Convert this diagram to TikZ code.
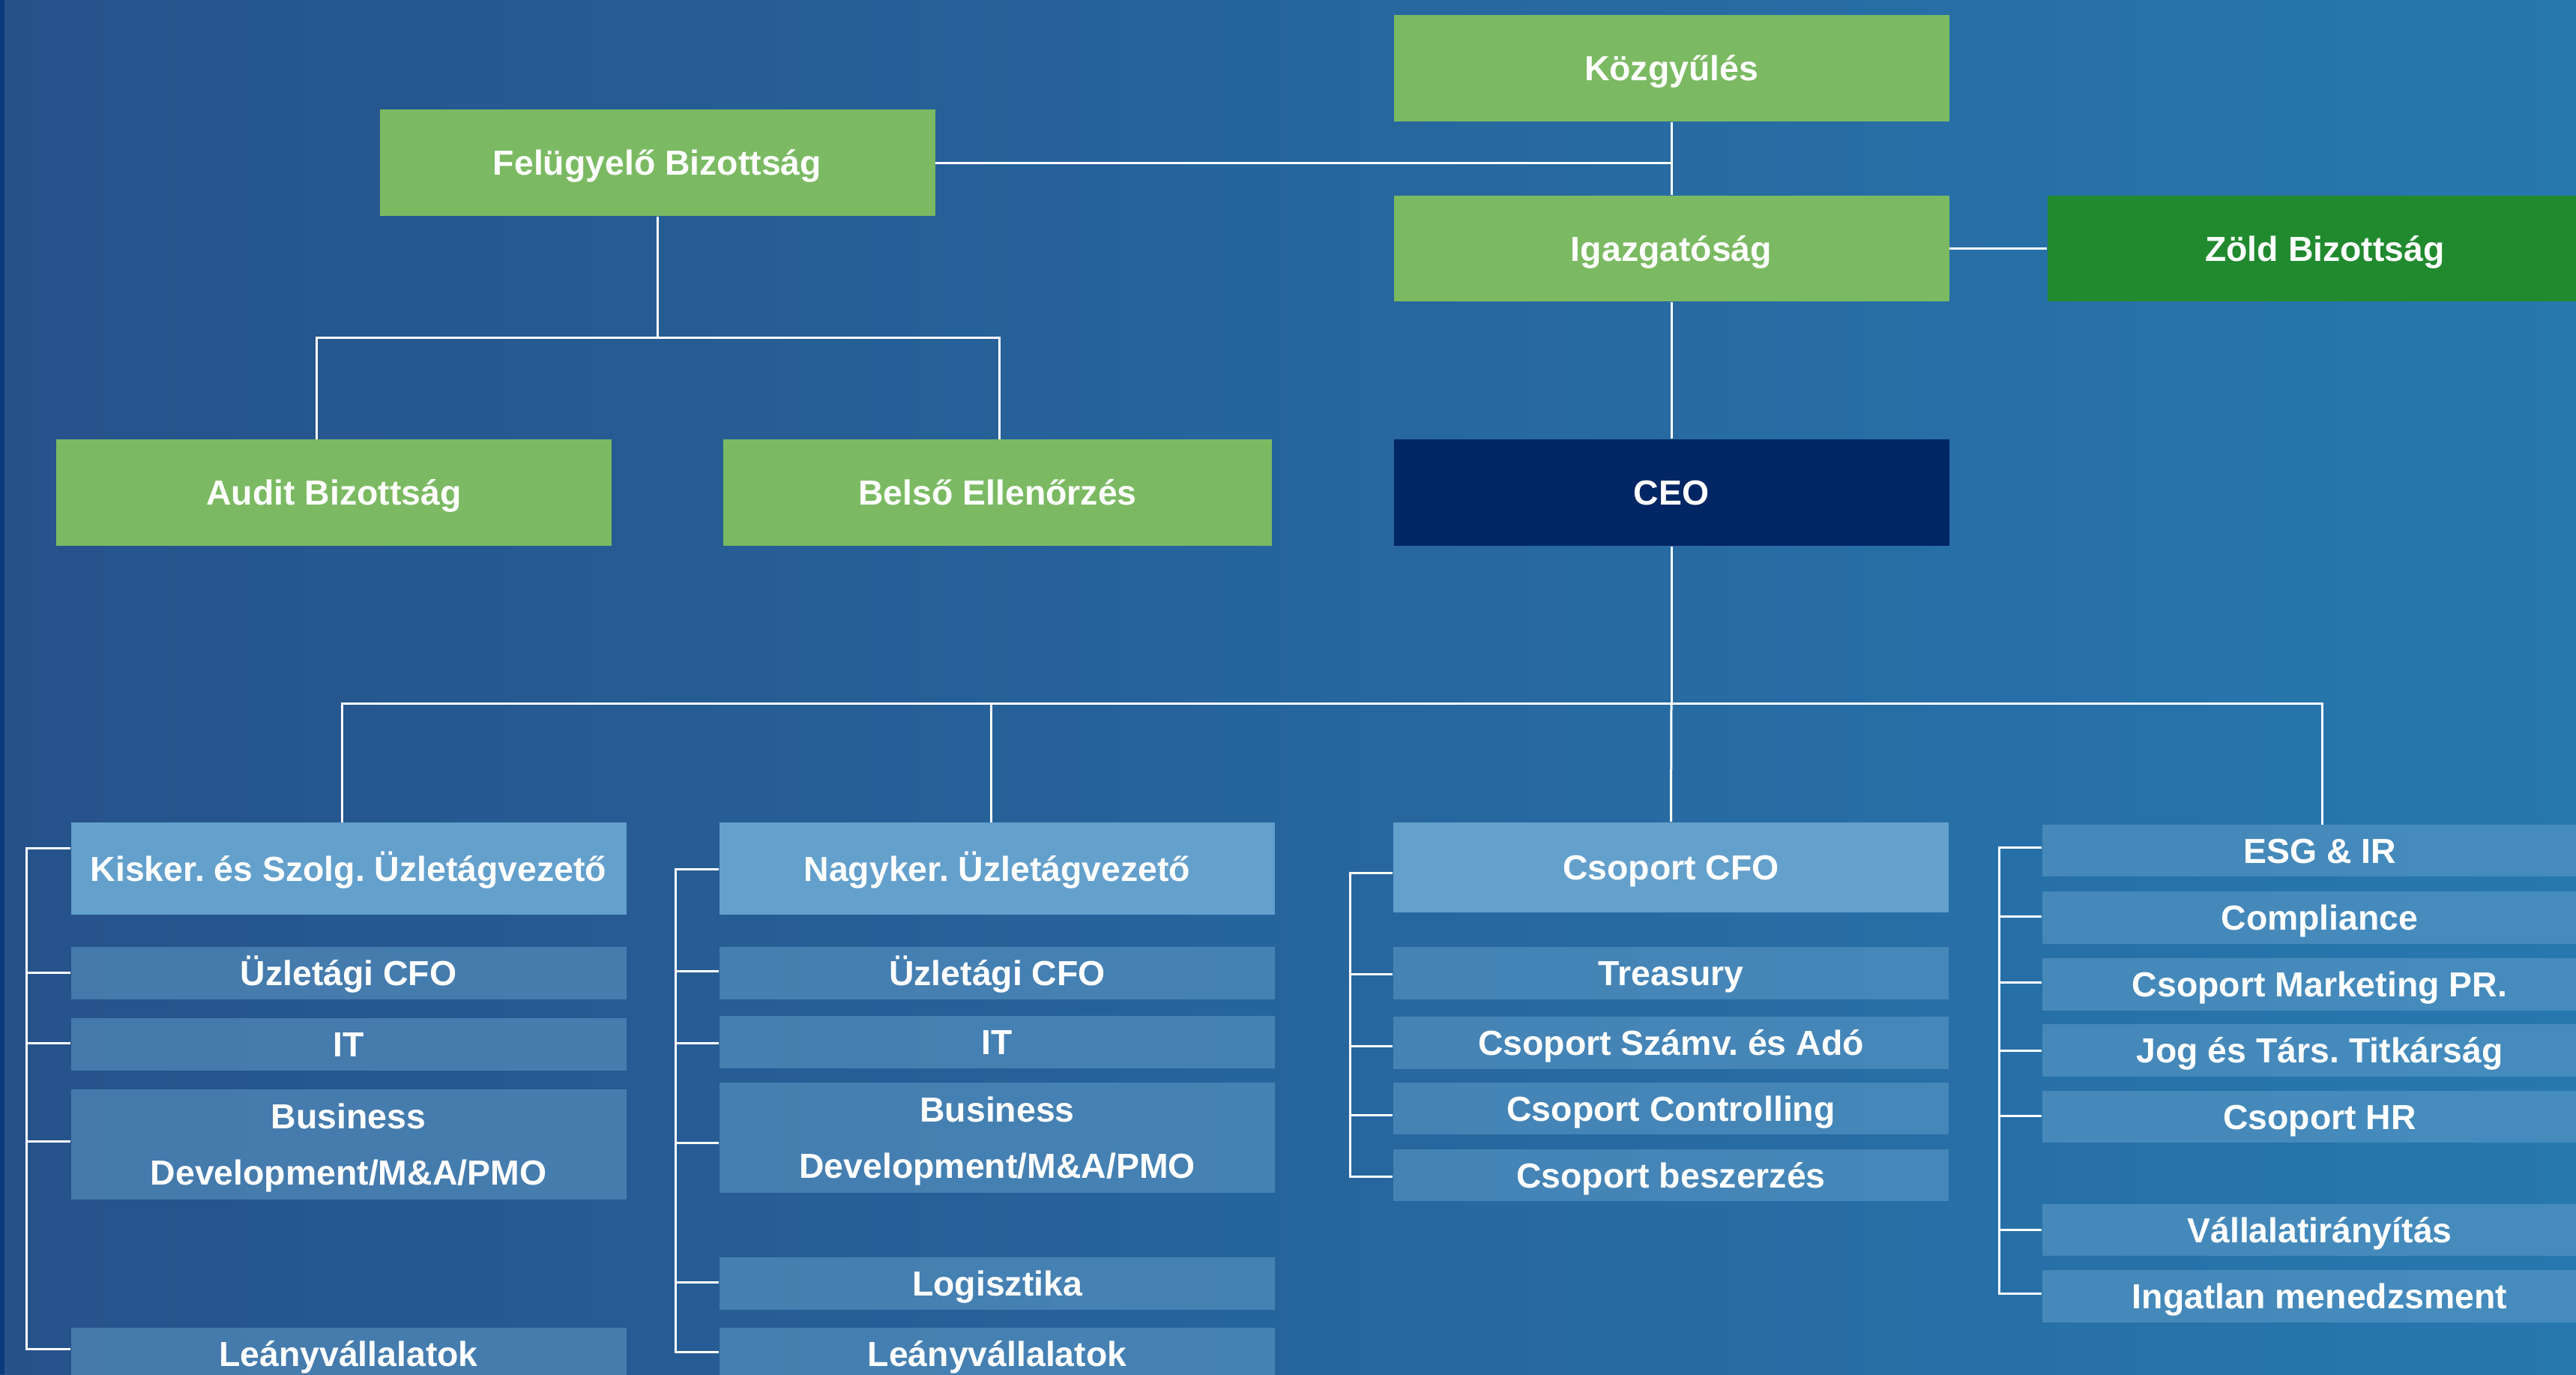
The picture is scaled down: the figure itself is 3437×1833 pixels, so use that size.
\documentclass[tikz,border=0pt]{standalone}
\usepackage{fontspec}
\setmainfont{Liberation Sans}
\frenchspacing
\definecolor{bgL}{HTML}{26528A}
\definecolor{bgR}{HTML}{2778AF}
\definecolor{stripc}{HTML}{0A3B7C}
\definecolor{lgreen}{HTML}{7BBA63}
\definecolor{dgreen}{HTML}{218A2F}
\definecolor{ceoblue}{HTML}{002664}
\definecolor{headblue}{HTML}{64A0CC}
\begin{document}
\begin{tikzpicture}[x=0.25pt,y=-0.25pt,
  box/.style={inner sep=0pt, minimum width=185.25pt, text=white,
    font=\fontsize{11.6}{14}\selectfont\bfseries\frenchspacing, align=center,
    text height=8.3pt, text depth=0pt},
  gbox/.style={box, fill=lgreen, minimum height=35.4pt},
  hbox/.style={box, fill=headblue},
  sbox/.style={box, fill=headblue, fill opacity=0.5, text opacity=1, minimum height=17.4pt},
  twoline/.style={minimum height=36.75pt, font=\fontsize{11.6}{18.75}\selectfont\bfseries, text height=27.05pt},
  conn/.style={draw=white, line width=0.75pt}]
\useasboundingbox (0,0) rectangle (3437,1833);
\clip (0,0) rectangle (3437,1833);
\shade[left color=bgL,right color=bgR] (0,0) rectangle (3437,1833);
\fill[stripc] (0,0) rectangle (6,1833);

% top level
\node[gbox] (kozgy) at (2230,91) {Közgyűlés};
\node[gbox] (felug) at (877,217) {Felügyelő Bizottság};
\node[gbox] (igaz) at (2230,331.5) {Igazgatóság};
\node[gbox, fill=dgreen] (zold) at (3102,331.5) {Zöld Bizottság};
\node[gbox] (audit) at (445.5,657) {Audit Bizottság};
\node[gbox, minimum width=183pt] (belso) at (1331,657) {Belső Ellenőrzés};
\node[gbox, fill=ceoblue] (ceo) at (2230,657) {CEO};

% heads
\node[hbox, minimum height=30.75pt] (kisker) at (465,1158.5) {Kisker. és Szolg. Üzletágvezető};
\node[hbox, minimum height=30.75pt] (nagyker) at (1330.5,1158.5) {Nagyker. Üzletágvezető};
\node[hbox, minimum height=30pt] (cfo) at (2229.5,1157) {Csoport CFO};

% column 1
\node[sbox] (ucfoA) at (465,1298) {Üzletági CFO};
\node[sbox] (itA) at (465,1393) {IT};
\node[sbox, twoline] (bdA) at (465,1526.5) {Business\\Development/M\&A/PMO};
\node[sbox] (leanyA) at (465,1805.5) {Leányvállalatok};

% column 2
\node[sbox] (ucfoB) at (1330.5,1298) {Üzletági CFO};
\node[sbox] (itB) at (1330.5,1390) {IT};
\node[sbox, twoline] (bdB) at (1330.5,1517.5) {Business\\Development/M\&A/PMO};
\node[sbox] (logi) at (1330.5,1712) {Logisztika};
\node[sbox] (leanyB) at (1330.5,1805.5) {Leányvállalatok};

% column 3
\node[sbox] (treas) at (2229.5,1298) {Treasury};
\node[sbox] (szamv) at (2229.5,1391) {Csoport Számv. és Adó};
\node[sbox] (contr) at (2229.5,1478.5) {Csoport Controlling};
\node[sbox] (besz) at (2229.5,1567.5) {Csoport beszerzés};

% column 4
\node[sbox] (esg) at (3095,1134.5) {ESG \& IR};
\node[sbox] (compl) at (3095,1224) {Compliance};
\node[sbox] (mkt) at (3095,1313) {Csoport Marketing PR.};
\node[sbox] (jog) at (3095,1401) {Jog és Társ. Titkárság};
\node[sbox] (hr) at (3095,1489.5) {Csoport HR};
\node[sbox] (vall) at (3095,1640.5) {Vállalatirányítás};
\node[sbox] (ingat) at (3095,1729) {Ingatlan menedzsment};

% coordinates
\coordinate (fbus) at (877,450);
\coordinate (cbus) at (2230,938);

% governance connectors
\draw[conn] (kozgy.south) -- (igaz.north);
\draw[conn] (felug.east) -- (kozgy.south |- felug.east);
\draw[conn] (igaz.east) -- (zold.west |- igaz.east);
\draw[conn] (igaz.south) -- (ceo.north);
\draw[conn] (felug.south) -- (fbus);
\draw[conn] (422,586) -- (422,450) -- (1333,450) -- (1333,586);
\draw[conn] (ceo.south) -- (cbus);
\draw[conn] (456,1097) -- (456,938) -- (3098,938) -- (3098,1100);
\draw[conn] (1322,938) -- (1322,1097);
\draw[conn] (cbus) -- (cfo.north);

% bracket 1
\draw[conn] (kisker.west |- 0,1131) -- (35,1131) -- (35,1799) -- (leanyA.west |- 0,1799);
\draw[conn] (35,1297) -- (ucfoA.west |- 0,1297);
\draw[conn] (35,1391) -- (itA.west |- 0,1391);
\draw[conn] (35,1522) -- (bdA.west |- 0,1522);

% bracket 2
\draw[conn] (nagyker.west |- 0,1159) -- (901,1159) -- (901,1803) -- (leanyB.west |- 0,1803);
\draw[conn] (901,1295) -- (ucfoB.west |- 0,1295);
\draw[conn] (901,1391) -- (itB.west |- 0,1391);
\draw[conn] (901,1524) -- (bdB.west |- 0,1524);
\draw[conn] (901,1710) -- (logi.west |- 0,1710);

% bracket 3
\draw[conn] (cfo.west |- 0,1164) -- (1801,1164) -- (1801,1569) -- (besz.west |- 0,1569);
\draw[conn] (1801,1299) -- (treas.west |- 0,1299);
\draw[conn] (1801,1395) -- (szamv.west |- 0,1395);
\draw[conn] (1801,1487) -- (contr.west |- 0,1487);

% bracket 4
\draw[conn] (esg.west |- 0,1130) -- (2667,1130) -- (2667,1725) -- (ingat.west |- 0,1725);
\draw[conn] (2667,1222) -- (compl.west |- 0,1222);
\draw[conn] (2667,1310) -- (mkt.west |- 0,1310);
\draw[conn] (2667,1401) -- (jog.west |- 0,1401);
\draw[conn] (2667,1488) -- (hr.west |- 0,1488);
\draw[conn] (2667,1640) -- (vall.west |- 0,1640);
\end{tikzpicture}
\end{document}
